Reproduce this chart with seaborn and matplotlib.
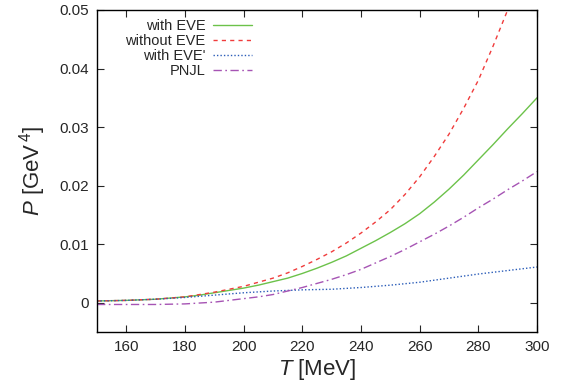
import numpy as np
import pandas as pd
import seaborn as sns
import matplotlib
matplotlib.use("Agg")
import matplotlib.pyplot as plt

T = [150, 155, 160, 165, 170, 175, 180, 185, 190, 195, 200, 205, 210, 215, 220, 225,
     230, 235, 240, 245, 250, 255, 260, 265, 270, 275, 280, 285, 290, 295, 300]

p_with_eve = [0.0003, 0.00035, 0.0004, 0.0005, 0.0006, 0.0008, 0.0010, 0.0013, 0.0017, 0.0021,
              0.0025, 0.0030, 0.0036, 0.0042, 0.0050, 0.0059, 0.0069, 0.0080, 0.0093, 0.0106,
              0.0120, 0.0135, 0.0152, 0.0172, 0.0194, 0.0218, 0.0244, 0.0270, 0.0297, 0.0323,
              0.0350]
p_without_eve = [0.0003, 0.00035, 0.0004, 0.0005, 0.0006, 0.0008, 0.0010, 0.0014, 0.0018, 0.0023,
                 0.0028, 0.0035, 0.0042, 0.0051, 0.0062, 0.0074, 0.0087, 0.0102, 0.0119, 0.0138,
                 0.0159, 0.0185, 0.0215, 0.0250, 0.0288, 0.0332, 0.0380, 0.0438, 0.0500, 0.0565,
                 0.0635]
p_with_eve2 = [0.0003, 0.00035, 0.0004, 0.0005, 0.0006, 0.00075, 0.0009, 0.0011, 0.0013, 0.0015,
               0.0017, 0.00185, 0.0020, 0.0021, 0.0022, 0.00225, 0.0023, 0.00245, 0.0026, 0.0028,
               0.0030, 0.00325, 0.0035, 0.00385, 0.0042, 0.00455, 0.0049, 0.0052, 0.0055, 0.0058,
               0.0061]
p_pnjl = [-0.0003, -0.0003, -0.0003, -0.0003, -0.0003, -0.00025, -0.0002, -0.00005, 0.0001, 0.0004,
          0.0007, 0.0010, 0.0014, 0.0020, 0.0026, 0.0033, 0.0040, 0.0048, 0.0057, 0.0068,
          0.0079, 0.0091, 0.0104, 0.0117, 0.0131, 0.0146, 0.0162, 0.0177, 0.0193, 0.0208,
          0.0224]

labels = ["with EVE", "without EVE", "with EVE'", "PNJL"]
x_ticks = [160, 180, 200, 220, 240, 260, 280, 300]
y_ticks = [0, 0.01, 0.02, 0.03, 0.04, 0.05]
y_tick_labels = ["0", "0.01", "0.02", "0.03", "0.04", "0.05"]

sns.set_style("ticks")
plt.rcParams['font.family'] = ['Liberation Sans', 'DejaVu Sans']
plt.rcParams['mathtext.fontset'] = 'custom'
plt.rcParams['mathtext.it'] = 'Liberation Sans:italic'
plt.rcParams['mathtext.rm'] = 'Liberation Sans'

fig = plt.figure(figsize=(5.71, 3.85), dpi=100)
ax = fig.add_axes([97/571, 1 - 332/385, 440/571, 322/385])

series = [
    (p_with_eve, labels[0], "#6cc24a", "-"),
    (p_without_eve, labels[1], "#f03c3c", (0, (3, 3))),
    (p_with_eve2, labels[2], "#2a5cb8", (0, (1, 1.5))),
    (p_pnjl, labels[3], "#a654b4", (0, (6, 2.5, 1.2, 2.5))),
]
for y, lab, col, ls in series:
    sns.lineplot(x=T, y=y, ax=ax, color=col, linestyle=ls, linewidth=1.0, label=lab)

ax.set_xlim(150, 300)
ax.set_ylim(-0.005, 0.05)
ax.set_xticks(x_ticks)
ax.set_xticklabels([str(t) for t in x_ticks])
ax.set_yticks(y_ticks)
ax.set_yticklabels(y_tick_labels)
ax.tick_params(direction="in", top=True, right=True, labelsize=11, length=5, width=0.8, pad=6)
for s in ax.spines.values():
    s.set_linewidth(1.0)
    s.set_color("black")

ax.set_xlabel(r"$T$ [MeV]", fontsize=16, labelpad=2)
ax.set_ylabel(r"$P$ [GeV$^{\,4}$]", fontsize=16, labelpad=8)

leg = ax.legend(loc="upper right", bbox_to_anchor=(0.366, 0.99), frameon=False,
                markerfirst=False, fontsize=10.5, handlelength=2.7, handletextpad=0.5,
                labelspacing=0.06, borderaxespad=0)
for t in leg.get_texts():
    t.set_ha("right")

fig.savefig("out.png", dpi=100)
